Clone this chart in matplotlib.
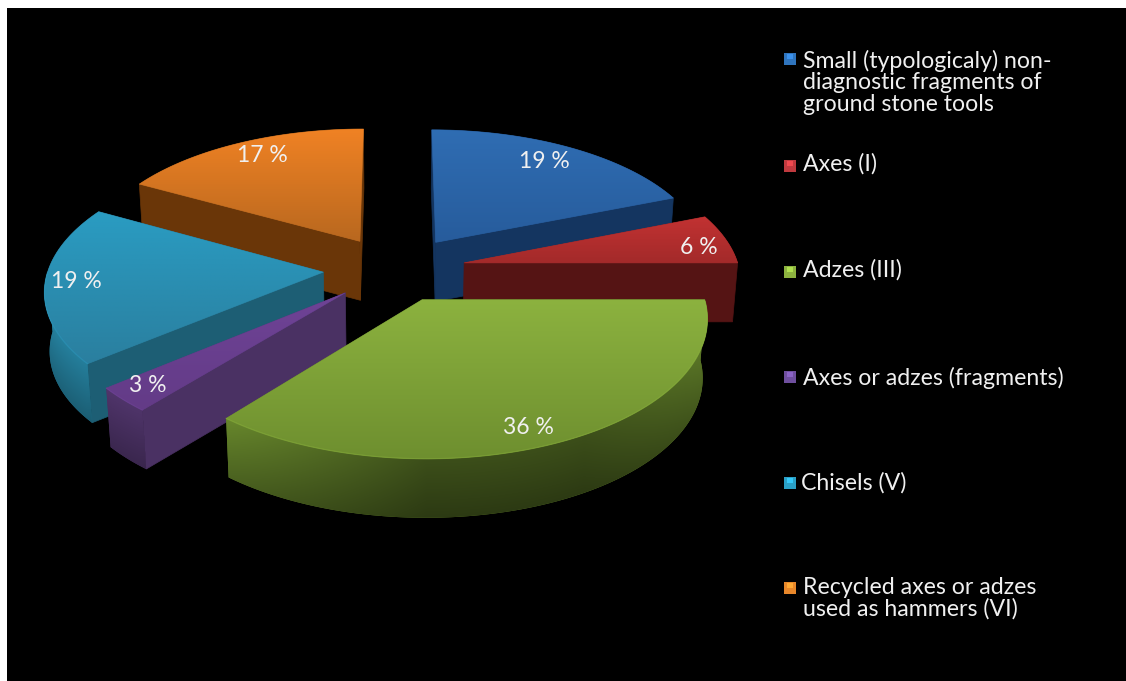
import numpy as np
import matplotlib
matplotlib.use("Agg")
import matplotlib.pyplot as plt
from matplotlib.colors import LinearSegmentedColormap, to_rgb
from matplotlib.patches import Polygon, Rectangle

plt.rcParams['font.family'] = ['Lato', 'DejaVu Sans']

# Data
categories = [
    "Small (typologicaly) non-\ndiagnostic fragments of\nground stone tools",
    "Axes (I)",
    "Adzes (III)",
    "Axes or adzes (fragments)",
    "Chisels (V)",
    "Recycled axes or adzes\nused as hammers (VI)",
]
percentages = [19, 6, 36, 3, 19, 17]

# Slice colours: top face start/end, cut face, rim
top_light = ["#2f6db3", "#c23232", "#8cb23f", "#6f4396", "#2a9cc2", "#f08224"]
top_dark = ["#275c9c", "#a32a2a", "#6e8f2f", "#633b87", "#2a7f9f", "#b9681f"]
cut_color = ["#143560", "#551414", "#3a4a14", "#4a3163", "#1d5e74", "#6a3608"]
rim_color = ["#1f4a80", "#7a1c1c", "#62802a", "#4a3163", "#227590", "#7a4210"]
marker_color = ["#2f74bd", "#c03a3f", "#8cb23f", "#6f4f9e", "#2aa0c6", "#e8872a"]

# Projection of the pie plane onto the page
CX, CY = 392, 269
SCALE_X, SCALE_Y = 275, 132
PERSPECTIVE = 0.12
THICKNESS = 59
EXPLODE = 0.25
draw_order = [5, 0, 1, 4, 3, 2]
shift_x = [6, 5, 0, 3, 0, 2]

label_xy = [(544, 161), (699, 248), (528, 428), (148, 386), (76, 281), (262, 155)]
marker_y = [59, 166, 272, 377, 483, 588]
legend_text_x = [803, 803, 803, 803, 801, 803]
legend_text_y = [59, 163, 269, 376, 482, 586]


def project(x, y, z=0.0, dx=0):
    s = 1 / (1 + PERSPECTIVE * y)
    u = CX + dx + SCALE_X * x * s * (1 - 0.015 * z)
    v = CY - SCALE_Y * y * s + THICKNESS * z
    return np.column_stack([np.atleast_1d(u), np.atleast_1d(v)])


def rim_shade(theta):
    # bright at the left and right ends of the rim, darkest towards the viewer
    deg = np.degrees(theta)
    deg = np.where(deg > 0, deg - 360, deg)
    return np.interp(deg, [-210, -180, -130, -105, -90, -60, -30, 0],
                     [1.0, 1.0, 0.95, 0.7, 0.55, 0.55, 0.75, 1.0])


def gradient_image(poly, rgba, bbox, z):
    img = ax.imshow(rgba, aspect="auto", extent=bbox, zorder=z, interpolation="bilinear")
    img.set_clip_path(poly)


fig = plt.figure(figsize=(11.26, 6.81), dpi=100, facecolor="white")
ax = fig.add_axes([0, 0, 1, 1])
ax.set_xlim(0, 1126)
ax.set_ylim(681, 0)
ax.set_autoscale_on(False)
ax.axis("off")
ax.add_patch(Rectangle((7, 8), 1119, 673, facecolor="black", edgecolor="none", zorder=0))

fractions = np.array(percentages) / sum(percentages)
starts = np.pi / 2 - 2 * np.pi * np.concatenate([[0], np.cumsum(fractions)[:-1]])
ends = starts - 2 * np.pi * fractions

z = 1
for i in draw_order:
    mid = (starts[i] + ends[i]) / 2
    ox, oy = EXPLODE * np.cos(mid), EXPLODE * np.sin(mid)
    theta = np.linspace(starts[i], ends[i], 180)
    xs = ox + np.cos(theta)
    ys = oy + np.sin(theta)

    apex = project(ox, oy, dx=shift_x[i])[0]
    arc = project(xs, ys, dx=shift_x[i])
    top = np.vstack([apex, arc])
    inner = top.mean(axis=0)

    # flat cut faces, only the ones turned towards the viewer
    for k in [0, -1]:
        p0, p1 = apex, arc[k]
        edge = p1 - p0
        normal = np.array([-edge[1], edge[0]])
        if normal @ (inner - p0) > 0:
            normal = -normal
        if normal[1] > 0:
            quad = np.vstack([p0, p1, project(xs[k], ys[k], 1.0, shift_x[i]),
                              project(ox, oy, 1.0, shift_x[i])])
            ax.add_patch(Polygon(quad, facecolor=cut_color[i], edgecolor=cut_color[i],
                                 linewidth=0.5, zorder=z))
            z += 1

    # curved rim: colour depends on the position along the arc and the drop below it
    front = np.sin(theta) < 0
    if front.sum() > 1:
        upper = arc[front]
        lower = project(xs[front], ys[front], 1.0, shift_x[i])
        outline = np.vstack([upper, lower[::-1]])
        rim = Polygon(outline, facecolor=rim_color[i], edgecolor="none", zorder=z)
        ax.add_patch(rim)
        z += 1
        x0, x1 = outline[:, 0].min(), outline[:, 0].max()
        y0, y1 = outline[:, 1].min(), outline[:, 1].max()
        cols = np.linspace(x0, x1, max(int(x1 - x0), 2))
        rows = np.linspace(y0, y1, max(int(y1 - y0), 2))
        order = np.argsort(upper[:, 0])
        arc_v = np.interp(cols, upper[order, 0], upper[order, 1])
        arc_t = np.interp(cols, upper[order, 0], theta[front][order])
        drop = np.clip((rows[:, None] - arc_v[None, :]) / THICKNESS, 0, 1)
        shade = rim_shade(arc_t)[None, :] * (1.12 - 0.3 * drop)
        rgb = np.clip(shade[..., None] * np.array(to_rgb(rim_color[i])), 0, 1)
        gradient_image(rim, rgb, (x0, x1, y1, y0), z)
        z += 1

    # top face with a vertical gradient
    poly = Polygon(top, facecolor=top_dark[i], edgecolor=top_dark[i], linewidth=0.5, zorder=z)
    ax.add_patch(poly)
    z += 1
    cmap = LinearSegmentedColormap.from_list("top", [top_light[i], top_dark[i]])
    rgb = cmap(np.linspace(0, 1, 128))[:, None, :3]
    gradient_image(poly, rgb, (top[:, 0].min(), top[:, 0].max(), top[:, 1].max(), top[:, 1].min()), z)
    z += 1

    # thin bevel along the front of the arc
    if front.any():
        edge_col = np.clip(np.array(to_rgb(top_light[i])) * 1.1, 0, 1)
        ax.plot(arc[front, 0], arc[front, 1], color=edge_col, lw=0.9, alpha=0.3, zorder=z)
        z += 1

# Value labels
for i, value in enumerate(percentages):
    ax.text(label_xy[i][0], label_xy[i][1], f"{value} %", color="#f0f0f0", fontsize=16.5,
            ha="center", va="center", zorder=z)

# Legend
for i, label in enumerate(categories):
    ax.add_patch(Rectangle((784, marker_y[i] - 6), 12, 12, facecolor=marker_color[i],
                           edgecolor="none", zorder=z))
    light = np.clip(np.array(to_rgb(marker_color[i])) * 1.25, 0, 1)
    ax.add_patch(Rectangle((787, marker_y[i] - 5), 6, 5, facecolor=light,
                           edgecolor="none", zorder=z + 1))
    ax.text(legend_text_x[i], legend_text_y[i] - 9.5, label, color="#f0f0f0", fontsize=16.7,
            ha="left", va="top", linespacing=1.04, zorder=z)

fig.savefig("out.png", dpi=100, facecolor=fig.get_facecolor())
